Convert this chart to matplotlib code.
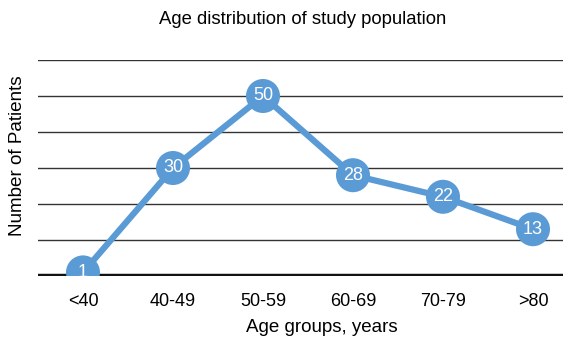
import numpy as np
import matplotlib.pyplot as plt

plt.rcParams['font.family'] = ['Liberation Sans', 'DejaVu Sans']

age_groups = ['<40', '40-49', '50-59', '60-69', '70-79', '>80']
patients = [1, 30, 50, 28, 22, 13]

W, H = 563, 337
fig = plt.figure(figsize=(W / 100, H / 100), dpi=100)
ax = fig.add_axes([38 / W, 61 / H, (W - 38) / W, 216 / H])

x = np.arange(len(age_groups))
blue = '#5b9bd5'

for y in range(10, 61, 10):
    ax.axhline(y, color='#333333', lw=1.0, zorder=1)
ax.axhline(0, color='#111111', lw=3.2, zorder=1)

ax.plot(x, patients, color=blue, lw=4.5, solid_capstyle='round', zorder=2)
ax.scatter(x, patients, s=600, color=blue, edgecolor='none', zorder=3)
for xi, v in zip(x, patients):
    ax.text(xi, v, str(v), color='white', ha='center', va='center',
            fontsize=13, zorder=4)

ax.set_xlim(-0.5, -0.5 + (W - 38) / 90)
ax.set_ylim(0, 60)
ax.set_xticks(x)
ax.set_xticklabels(age_groups, fontsize=13)
ax.set_yticks([])
ax.tick_params(axis='x', length=0, pad=12)
for s in ax.spines.values():
    s.set_visible(False)

fig.text(322 / W, 1 - 327 / H, 'Age groups, years', ha='center', va='center',
         fontsize=13.5)
fig.text(18 / W, 1 - 156 / H, 'Number of Patients', ha='center', va='center',
         rotation=90, fontsize=13.6)
fig.text(303 / W, 1 - 20 / H, 'Age distribution of study population',
         ha='center', va='center', fontsize=13.3)

fig.savefig('out.png', dpi=100)
